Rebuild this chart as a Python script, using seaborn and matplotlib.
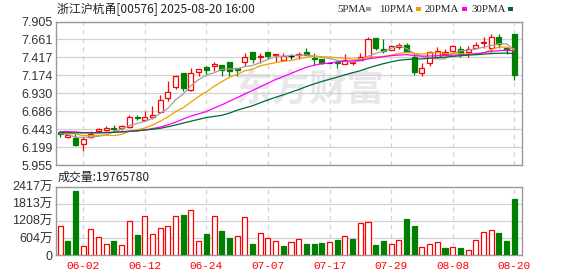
import numpy as np
import matplotlib
matplotlib.use("Agg")
import matplotlib.pyplot as plt
from matplotlib.patches import Rectangle
import seaborn as sns

# ---------------- data ----------------
title = "浙江沪杭甬[00576] 2025-08-20 16:00"
vol_title = "成交量:19765780"
tick_pos = [3, 11, 19, 27, 35, 43, 51, 59]
tick_labels = ["06-02", "06-12", "06-24", "07-07", "07-17", "07-29", "08-08", "08-20"]
price_ticks = [5.955, 6.199, 6.443, 6.686, 6.930, 7.174, 7.417, 7.661, 7.905]
price_tick_labels = ["5.955", "6.199", "6.443", "6.686", "6.930", "7.174", "7.417", "7.661", "7.905"]
vol_ticks = [0, 604, 1208, 1813, 2417]
vol_tick_labels = ["0", "604万", "1208万", "1813万", "2417万"]

opens = [6.400, 6.337, 6.319, 6.234, 6.333, 6.418, 6.427, 6.458, 6.453, 6.467,
         6.605, 6.570, 6.606, 6.677, 6.860, 7.021, 7.209, 6.968, 7.214, 7.290,
         7.307, 7.316, 7.348, 7.270, 7.361, 7.486, 7.428, 7.486, 7.455, 7.383,
         7.432, 7.455, 7.495, 7.410, 7.392, 7.346, 7.361, 7.330, 7.343, 7.383,
         7.428, 7.674, 7.527, 7.518, 7.562, 7.585, 7.428, 7.205, 7.339, 7.419,
         7.459, 7.509, 7.527, 7.486, 7.549, 7.611, 7.549, 7.688, 7.549, 7.732]
highs = [6.410, 6.370, 6.377, 6.333, 6.413, 6.453, 6.480, 6.498, 6.498, 6.637,
         6.632, 6.686, 6.758, 6.901, 7.102, 7.182, 7.209, 7.272, 7.262, 7.295,
         7.348, 7.316, 7.350, 7.275, 7.473, 7.490, 7.482, 7.490, 7.466, 7.473,
         7.464, 7.486, 7.540, 7.473, 7.392, 7.352, 7.383, 7.464, 7.374, 7.482,
         7.696, 7.674, 7.665, 7.585, 7.607, 7.607, 7.482, 7.339, 7.509, 7.553,
         7.527, 7.585, 7.571, 7.571, 7.620, 7.688, 7.732, 7.741, 7.549, 7.732]
lows = [6.330, 6.320, 6.212, 6.145, 6.319, 6.400, 6.418, 6.409, 6.436, 6.458,
        6.565, 6.556, 6.579, 6.668, 6.825, 6.990, 6.959, 6.963, 7.169, 7.182,
        7.227, 7.169, 7.160, 7.169, 7.294, 7.339, 7.339, 7.392, 7.361, 7.383,
        7.392, 7.392, 7.446, 7.316, 7.330, 7.338, 7.272, 7.330, 7.312, 7.383,
        7.428, 7.518, 7.473, 7.518, 7.527, 7.486, 7.173, 7.160, 7.294, 7.406,
        7.451, 7.495, 7.419, 7.428, 7.531, 7.540, 7.495, 7.540, 7.459, 7.115]
closes = [6.380, 6.364, 6.230, 6.310, 6.377, 6.445, 6.458, 6.449, 6.485, 6.614,
          6.588, 6.605, 6.641, 6.834, 6.950, 7.169, 6.999, 7.205, 7.258, 7.249,
          7.325, 7.240, 7.235, 7.249, 7.419, 7.392, 7.442, 7.442, 7.464, 7.430,
          7.432, 7.468, 7.455, 7.397, 7.345, 7.346, 7.344, 7.383, 7.352, 7.419,
          7.665, 7.540, 7.509, 7.571, 7.585, 7.486, 7.214, 7.272, 7.495, 7.509,
          7.495, 7.576, 7.464, 7.535, 7.585, 7.620, 7.688, 7.594, 7.518, 7.182]

ma5 = [6.385, 6.370, 6.335, 6.330, 6.335, 6.345, 6.364, 6.408, 6.443, 6.490,
       6.519, 6.548, 6.587, 6.656, 6.724, 6.840, 6.919, 7.031, 7.116, 7.176,
       7.207, 7.255, 7.261, 7.260, 7.294, 7.307, 7.347, 7.389, 7.432, 7.434,
       7.442, 7.447, 7.450, 7.436, 7.419, 7.402, 7.377, 7.363, 7.354, 7.369,
       7.433, 7.472, 7.497, 7.541, 7.574, 7.538, 7.473, 7.426, 7.410, 7.395,
       7.397, 7.469, 7.508, 7.516, 7.531, 7.556, 7.578, 7.604, 7.601, 7.520]
ma10 = [6.400, 6.390, 6.375, 6.355, 6.355, 6.360, 6.360, 6.355, 6.370, 6.411,
        6.432, 6.456, 6.497, 6.550, 6.607, 6.679, 6.733, 6.809, 6.886, 6.950,
        7.024, 7.087, 7.146, 7.188, 7.235, 7.257, 7.301, 7.325, 7.346, 7.364,
        7.375, 7.397, 7.419, 7.434, 7.427, 7.422, 7.412, 7.406, 7.395, 7.394,
        7.417, 7.425, 7.430, 7.447, 7.471, 7.485, 7.472, 7.461, 7.476, 7.485,
        7.468, 7.471, 7.467, 7.463, 7.463, 7.477, 7.524, 7.556, 7.558, 7.526]
ma20 = [6.409, 6.409, 6.405, 6.395, 6.392, 6.392, 6.393, 6.398, 6.405, 6.413,
        6.418, 6.430, 6.450, 6.470, 6.500, 6.535, 6.580, 6.620, 6.650, 6.681,
        6.728, 6.772, 6.822, 6.869, 6.921, 6.968, 7.017, 7.067, 7.116, 7.157,
        7.200, 7.242, 7.283, 7.311, 7.331, 7.340, 7.357, 7.366, 7.371, 7.379,
        7.396, 7.411, 7.425, 7.441, 7.449, 7.454, 7.442, 7.434, 7.436, 7.440,
        7.443, 7.448, 7.449, 7.455, 7.467, 7.481, 7.498, 7.509, 7.517, 7.506]
ma30 = [6.395, 6.393, 6.392, 6.392, 6.393, 6.395, 6.397, 6.400, 6.405, 6.412,
        6.420, 6.431, 6.440, 6.453, 6.475, 6.498, 6.525, 6.550, 6.575, 6.600,
        6.615, 6.630, 6.660, 6.700, 6.730, 6.760, 6.800, 6.840, 6.875, 6.908,
        6.944, 6.980, 7.021, 7.057, 7.090, 7.119, 7.149, 7.180, 7.209, 7.236,
        7.272, 7.303, 7.332, 7.356, 7.378, 7.388, 7.395, 7.397, 7.406, 7.414,
        7.420, 7.431, 7.439, 7.448, 7.454, 7.461, 7.469, 7.474, 7.476, 7.468]

volume_wan = [1026, 507, 2264, 318, 920, 625, 389, 507, 354, 1203,
              707, 1379, 743, 943, 1026, 1379, 1415, 1592, 495, 743,
              1379, 849, 601, 672, 1332, 389, 766, 590, 495, 318,
              460, 554, 389, 389, 424, 460, 531, 660, 566, 1120,
              1167, 354, 495, 377, 531, 1273, 1026, 271, 377, 460,
              248, 271, 248, 165, 531, 814, 884, 790, 507, 1977]
vol_dir = ("rggrrrrgrr" "grrrrrgrrg" "rggrrgrrrg"
           "rrgggrgrgr" "rggrrggrrr" "grgrrrrggg")

ma_names = ["5PMA", "10PMA", "20PMA", "30PMA"]
ma_colors = ["#a0a0a0", "#f0a000", "#ff00ff", "#006a2e"]

# ---------------- style ----------------
sns.set_style("white")
plt.rcParams["font.family"] = ["Liberation Sans", "Noto Sans CJK SC", "DejaVu Sans"]

RED = "#ff0000"
GREEN = "#008000"
GRID = "#d2d2d2"
SPINE = "#999999"

W, H = 578, 276
fig = plt.figure(figsize=(W / 100, H / 100), dpi=100)
ax = fig.add_axes([56 / W, 1 - 165 / H, 466 / W, (165 - 21.5) / H])
axv = fig.add_axes([56 / W, 1 - 255 / H, 466 / W, (255 - 186.5) / H])

idx = np.arange(len(closes))
o = np.array(opens); c = np.array(closes); hi = np.array(highs); lo = np.array(lows)

# ---------------- candles ----------------
bw = 0.65
for i in idx:
    if c[i] > o[i]:
        col, face = RED, "white"
    elif c[i] < o[i]:
        col, face = GREEN, GREEN
    else:
        col, face = "black", "black"
    top = max(o[i], c[i]); bot = min(o[i], c[i])
    ax.vlines(i, top, hi[i], color=col, lw=0.9, zorder=3)
    ax.vlines(i, lo[i], bot, color=col, lw=0.9, zorder=3)
    ax.bar(i, max(top - bot, 0.0015), bottom=bot, width=bw, facecolor=face,
           edgecolor=col, linewidth=0.9, zorder=4)

for m, colr in zip([ma5, ma10, ma20, ma30], ma_colors):
    sns.lineplot(x=idx, y=m, ax=ax, color=colr, linewidth=0.9, legend=False, zorder=5)

ax.text(0.545, 0.52, "东方财富", transform=ax.transAxes, ha="center", va="center",
        fontsize=27, fontweight="bold", color="#e8e8ec", style="italic",
        family=["Noto Sans CJK SC"], zorder=0.5)

ax.set_xlim(-0.52, 60.0)
ax.set_ylim(5.955, 7.905)
ax.set_yticks(price_ticks)
ax.set_yticklabels(price_tick_labels)
ax.set_xticks(tick_pos)
ax.set_xticklabels([])
ax.set_xlabel(""); ax.set_ylabel("")

# ---------------- volume ----------------
sns.barplot(x=idx, y=volume_wan, ax=axv, native_scale=True, width=bw,
            errorbar=None, color=RED, zorder=3)
for p, d in zip(axv.patches, vol_dir):
    if d == "r":
        p.set_facecolor("white"); p.set_edgecolor(RED)
    else:
        p.set_facecolor(GREEN); p.set_edgecolor(GREEN)
    p.set_linewidth(0.9)

axv.set_xlim(-0.52, 60.0)
axv.set_ylim(0, 2417)
axv.set_yticks(vol_ticks)
axv.set_yticklabels(vol_tick_labels)
axv.set_xticks(tick_pos)
axv.set_xticklabels(tick_labels)
axv.set_xlabel(""); axv.set_ylabel("")

for a in (ax, axv):
    a.set_axisbelow(True)
    a.grid(axis="y", color=GRID, lw=0.9, ls="-")
    a.grid(axis="x", color=GRID, lw=0.9, ls=(0, (3.5, 3.5)))
    for s in a.spines.values():
        s.set_color(SPINE); s.set_linewidth(1.0); s.set_visible(True)
    a.tick_params(axis="both", length=0)
    a.tick_params(axis="y", pad=2.5, labelsize=9, labelcolor="#333333")

axv.tick_params(axis="x", pad=4, labelsize=8, labelcolor=RED)
for t in axv.get_xticklabels():
    t.set_family(["Liberation Mono"])

# ---------------- texts ----------------
fig.text(57 / W, 1 - 9 / H, title, ha="left", va="center", fontsize=8.6,
         color="#222222", family=["Noto Sans CJK SC"])
fig.text(57.5 / W, 1 - 177 / H, vol_title, ha="left", va="center", fontsize=8.6,
         color="#222222", family=["Noto Sans CJK SC"])

leg_x = [337, 379, 425, 471]
sq_x = [366, 416, 462, 508]
for name, colr, tx, sx in zip(ma_names, ma_colors, leg_x, sq_x):
    fig.text(tx / W, 1 - 9 / H, name, ha="left", va="center", fontsize=7.8,
             color="#222222", family=["Liberation Serif"])
    fig.patches.append(Rectangle((sx / W, 1 - 10.5 / H), 5 / W, 3.5 / H,
                                 transform=fig.transFigure, facecolor=colr,
                                 edgecolor="none"))

fig.savefig("out.png", dpi=100, facecolor="white")
